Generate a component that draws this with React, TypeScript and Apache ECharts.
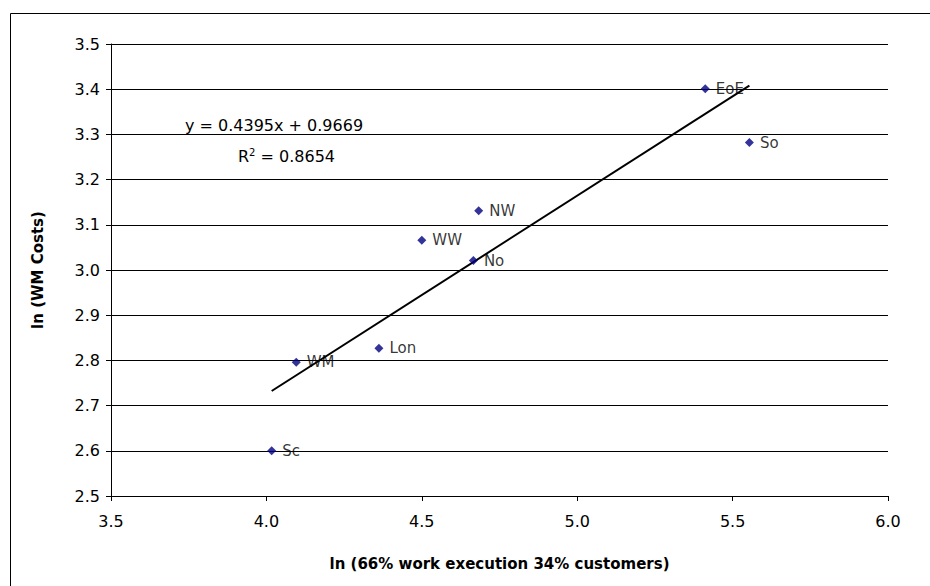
import React, { useEffect, useRef } from "react";
import * as echarts from "echarts";

const regionNames = ["EoE", "So", "NW", "WW", "No", "Lon", "WM", "Sc"];
const xValues = [5.412, 5.554, 4.683, 4.5, 4.666, 4.362, 4.096, 4.017];
const yValues = [3.401, 3.282, 3.131, 3.066, 3.021, 2.827, 2.796, 2.6];
const trendSlope = 0.4395;
const trendIntercept = 0.9669;
const equationText = "y = 0.4395x + 0.9669";
const rSquaredText = "0.8654";
const xAxisTitle = "ln (66% work execution 34% customers)";
const yAxisTitle = "ln (WM Costs)";

const FONT = "'DejaVu Sans', Verdana, sans-serif";

export default function App() {
  const ref = useRef<HTMLDivElement>(null);
  useEffect(() => {
    document.body.style.margin = "0";
    if (!ref.current) return;
    const chart = echarts.init(ref.current, undefined, { renderer: "svg" });
    const pts = regionNames.map((n, i) => ({ name: n, value: [xValues[i], yValues[i]] }));
    const minX = Math.min(...xValues);
    const maxX = Math.max(...xValues);
    const trend = [
      [minX, trendSlope * minX + trendIntercept],
      [maxX, trendSlope * maxX + trendIntercept],
    ];
    chart.setOption({
      animation: false,
      backgroundColor: "#fff",
      textStyle: { fontFamily: FONT },
      grid: { left: 111, right: 42, top: 44, bottom: 90 },
      xAxis: {
        type: "value",
        min: 3.5,
        max: 6.0,
        interval: 0.5,
        name: xAxisTitle,
        nameLocation: "middle",
        nameGap: 60,
        nameTextStyle: { fontFamily: FONT, fontSize: 15, fontWeight: "bold", color: "#000" },
        axisLine: { show: true, lineStyle: { color: "#000", width: 1 } },
        axisTick: { show: true, inside: false, length: 5, lineStyle: { color: "#000" } },
        axisLabel: { fontFamily: FONT, fontSize: 16, color: "#000", margin: 17, formatter: (v: number) => v.toFixed(1) },
        splitLine: { show: false },
      },
      yAxis: {
        type: "value",
        min: 2.5,
        max: 3.5,
        interval: 0.1,
        name: yAxisTitle,
        nameLocation: "middle",
        nameRotate: 90,
        nameGap: 66,
        nameTextStyle: { fontFamily: FONT, fontSize: 15, fontWeight: "bold", color: "#000" },
        axisLine: { show: true, lineStyle: { color: "#000", width: 1 } },
        axisTick: { show: true, inside: false, length: 5, lineStyle: { color: "#000" } },
        axisLabel: { fontFamily: FONT, fontSize: 16, color: "#000", margin: 11, formatter: (v: number) => v.toFixed(1) },
        splitLine: { show: true, lineStyle: { color: "#000", width: 1 } },
      },
      graphic: [
        {
          type: "rect",
          shape: { x: 10.5, y: 13.5, width: 1000, height: 1000 },
          style: { fill: "none", stroke: "#000", lineWidth: 1 },
          silent: true,
        },
        {
          type: "text",
          x: 185,
          y: 125,
          style: { text: equationText, font: `16px ${FONT}`, fill: "#000", verticalAlign: "middle", align: "left" },
        },
        {
          type: "text",
          x: 238,
          y: 156,
          style: {
            text: "R{sup|2} = " + rSquaredText,
            font: `16px ${FONT}`,
            fill: "#000",
            verticalAlign: "middle",
            align: "left",
            rich: { sup: { fontSize: 10, verticalAlign: "top", padding: [0, 0, 8, 0], fontFamily: FONT, fill: "#000" } },
          } as any,
        },
      ],
      series: [
        {
          type: "line",
          data: trend,
          showSymbol: false,
          symbol: "none",
          lineStyle: { color: "#000", width: 2 },
          z: 3,
          silent: true,
        },
        {
          type: "scatter",
          data: pts,
          symbol: "diamond",
          symbolSize: 9,
          itemStyle: { color: "#000080" },
          label: {
            show: true,
            position: "right",
            distance: 6,
            formatter: (p: any) => p.name,
            fontFamily: FONT,
            fontSize: 15,
            color: "#000",
          },
          z: 4,
        },
      ],
    });
    return () => chart.dispose();
  }, []);
  return <div ref={ref} style={{ width: 930, height: 586 }} />;
}
